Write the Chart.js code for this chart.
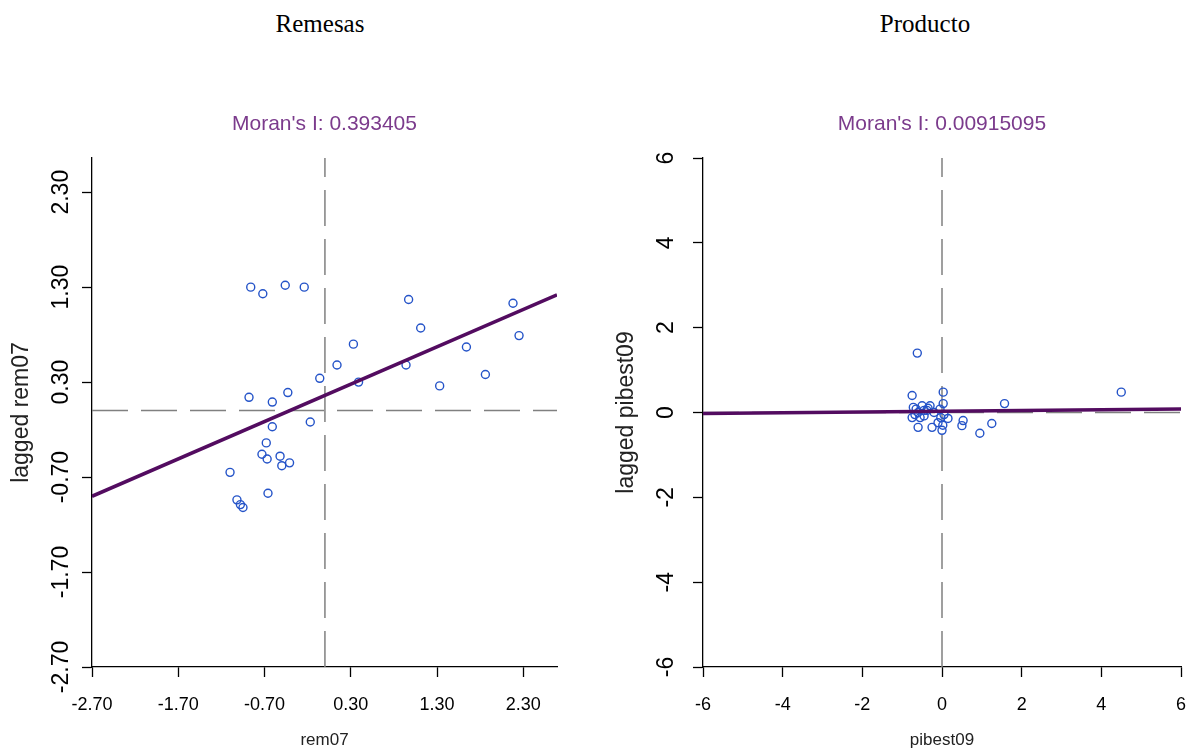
<!DOCTYPE html>
<html>
<head>
<meta charset="utf-8">
<script src="https://cdn.jsdelivr.net/npm/chart.js@4"></script>
<style>
  body { margin: 0; width: 1198px; height: 755px; background: #fff; position: relative; overflow: hidden; }
  .encabezado { position: absolute; top: 10px; font-family: "Liberation Serif", serif; font-size: 25px; color: #000; transform: translateX(-50%); }
  .caja { position: absolute; top: 0; height: 755px; }
</style>
</head>
<body>
<div class="encabezado" style="left:320px">Remesas</div>
<div class="encabezado" style="left:925px">Producto</div>
<div class="caja" style="left:0; width:600px"><canvas id="graficoRemesas"></canvas></div>
<div class="caja" style="left:600px; width:598px"><canvas id="graficoProducto"></canvas></div>
<script>
// REMESAS: rem07 estandarizado vs rezago espacial
const remX = [-0.86, -0.72, -0.46, -0.24, 0.97, 2.18, 1.11, 2.25, 0.33, 1.64, 0.14, 0.94, -0.06, 0.39, 1.86, 1.33,
  -0.88, -0.43, -0.61, -0.17, -0.61, -0.68, -0.73, -0.67, -0.52, -0.50, -0.41, -1.10, -0.66, -1.02, -0.98, -0.95];
const remLag = [1.30, 1.23, 1.32, 1.30, 1.17, 1.13, 0.87, 0.79, 0.70, 0.67, 0.48, 0.48, 0.34, 0.30, 0.38, 0.26,
  0.14, 0.19, 0.09, -0.12, -0.17, -0.34, -0.46, -0.51, -0.48, -0.58, -0.55, -0.65, -0.87, -0.94, -0.99, -1.02];
const remTicks = [-2.70, -1.70, -0.70, 0.30, 1.30, 2.30];
const remMoran = 0.393405;
const remIntercepto = 0.16;

// PRODUCTO: pibest09
const pibX = [-0.62, 4.50, 1.57, 0.03, 0.03, -0.75, -0.72, -0.50, -0.30, -0.60, -0.38, -0.75, -0.55, -0.60, -0.25, -0.10,
  0.00, 0.15, -0.03, 0.50, 0.53, 0.95, 1.25, -0.45, -0.65, -0.20, 0.05, -0.05, -0.45, -0.68, -0.35, 0.02];
const pibLag = [1.40, 0.48, 0.21, 0.48, 0.21, 0.40, 0.12, 0.16, 0.16, 0.00, 0.05, -0.12, -0.12, -0.35, -0.35, -0.24,
  -0.42, -0.14, -0.12, -0.31, -0.19, -0.49, -0.26, 0.05, 0.08, 0.00, -0.05, 0.08, -0.08, -0.05, 0.10, -0.30];
const pibTicks = [-6, -4, -2, 0, 2, 4, 6];
const pibMoran = 0.00915095;
const pibIntercepto = 0.03;

const fuente = '"Liberation Sans", Arial, sans-serif';

function hacerPuntos(xs, ys) {
    return xs.map((x, i) => ({x: x, y: ys[i]}));
}

function crearGrafico(id, cfg) {
    const recta = [cfg.xMin, cfg.xMax].map(x => ({x: x, y: cfg.intercepto + cfg.moran * x}));
    return new Chart(document.getElementById(id), {
        type: 'scatter',
        data: {
            datasets: [
                { type: 'line', data: recta, borderColor: '#530c60', borderWidth: 3.5, pointRadius: 0, order: 0 },
                { data: hacerPuntos(cfg.xs, cfg.ys), pointStyle: 'circle', pointRadius: 4, borderWidth: 1.4,
                  borderColor: '#2453c8', backgroundColor: 'rgba(0,0,0,0)', order: 1 },
                { type: 'line', data: [{x: 0, y: cfg.yMin}, {x: 0, y: cfg.yMax}], borderColor: '#808080',
                  borderWidth: 1.5, borderDash: [36, 13], pointRadius: 0, order: 2 },
                { type: 'line', data: [{x: cfg.xMin, y: 0}, {x: cfg.xMax, y: 0}], borderColor: '#808080',
                  borderWidth: 1.5, borderDash: [36, 13], pointRadius: 0, order: 2 }
            ]
        },
        options: {
            responsive: true,
            maintainAspectRatio: false,
            animation: false,
            layout: { padding: { top: 0, left: 0, bottom: 0, right: cfg.padDer } },
            plugins: {
                legend: { display: false },
                tooltip: { enabled: false },
                title: {
                    display: true, text: "Moran's I: " + cfg.moranTexto, color: '#7b3b8c', fullSize: false,
                    font: { family: fuente, size: 21, weight: 'normal' }, padding: { top: 111.4, bottom: 21.4 }
                }
            },
            scales: {
                x: {
                    type: 'linear', min: cfg.xMin, max: cfg.xMax,
                    afterBuildTicks: s => { s.ticks = cfg.ticks.map(v => ({value: v})); },
                    afterFit: s => { s.height = 88; s.paddingLeft = 0; s.paddingRight = 0; },
                    grid: { drawOnChartArea: false, drawTicks: true, tickLength: 10, tickColor: '#000', tickWidth: 1.3 },
                    border: { display: true, color: '#000', width: 1.3 },
                    ticks: { color: '#000', font: { family: fuente, size: 18 }, padding: 17, autoSkip: false,
                             maxRotation: 0, callback: v => cfg.formato(v) },
                    title: { display: true, text: cfg.xTitulo, color: '#222', font: { family: fuente, size: 17 },
                             padding: { top: 0, bottom: 4 } }
                },
                y: {
                    type: 'linear', min: cfg.yMin, max: cfg.yMax,
                    afterBuildTicks: s => { s.ticks = cfg.ticks.map(v => ({value: v})); },
                    afterFit: s => { s.width = cfg.anchoY; },
                    grid: { drawOnChartArea: false, drawTicks: true, tickLength: 10, tickColor: '#000', tickWidth: 1.3 },
                    border: { display: true, color: '#000', width: 1.3 },
                    ticks: { color: '#000', font: { family: fuente, size: 23 }, padding: cfg.padTick, autoSkip: false,
                             minRotation: 90, maxRotation: 90, crossAlign: 'center', callback: v => cfg.formato(v) },
                    title: { display: true, text: cfg.yTitulo, color: '#222', font: { family: fuente, size: 23 },
                             padding: { top: cfg.padTituloY, bottom: 0 } }
                }
            }
        }
    });
}

const graficoRemesas = crearGrafico('graficoRemesas', {
    xs: remX, ys: remLag, ticks: remTicks, moran: remMoran, intercepto: remIntercepto, moranTexto: '0.393405',
    xMin: -2.70, xMax: 2.69, yMin: -2.70, yMax: 2.66, padDer: 43, anchoY: 92, padTick: -6, padTituloY: 8,
    xTitulo: 'rem07', yTitulo: 'lagged rem07', formato: v => v.toFixed(2)
});

const graficoProducto = crearGrafico('graficoProducto', {
    xs: pibX, ys: pibLag, ticks: pibTicks, moran: pibMoran, intercepto: pibIntercepto, moranTexto: '0.00915095',
    xMin: -6, xMax: 6, yMin: -6, yMax: 6, padDer: 17, anchoY: 103, padTick: 16, padTituloY: 13,
    xTitulo: 'pibest09', yTitulo: 'lagged pibest09', formato: v => String(v)
});
</script>
</body>
</html>
